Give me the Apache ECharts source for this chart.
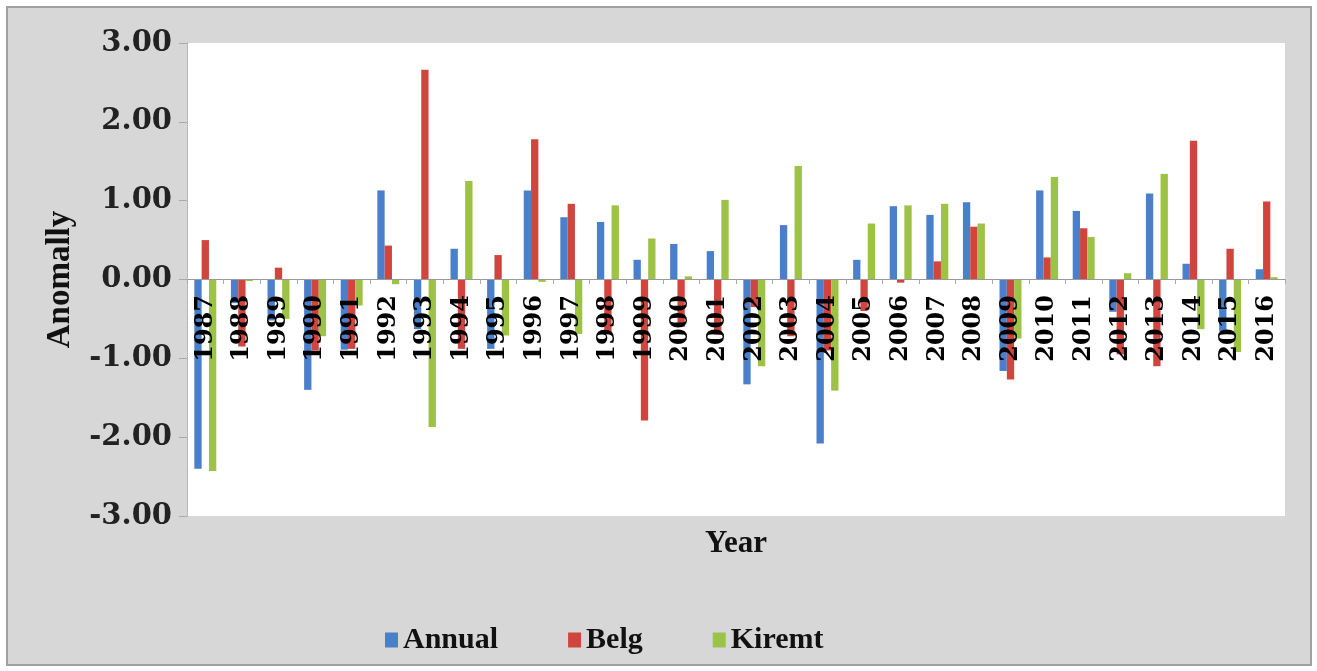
<!DOCTYPE html>
<html>
<head>
<meta charset="utf-8">
<script src="https://cdn.jsdelivr.net/npm/echarts@6/dist/echarts.min.js"></script>
<style>
  html, body { margin: 0; padding: 0; background: #fff; }
  #frame {
    position: absolute; left: 6px; top: 6px; width: 1302px; height: 656px;
    border: 2px solid #a0a0a0; background: #d7d7d7;
  }
  #chart { position: absolute; left: 0; top: 0; width: 1317px; height: 671px; }
</style>
</head>
<body>
<div id="frame"></div>
<div id="chart"></div>
<script>
const years = ['1987', '1988', '1989', '1990', '1991', '1992', '1993', '1994', '1995', '1996',
  '1997', '1998', '1999', '2000', '2001', '2002', '2003', '2004', '2005', '2006',
  '2007', '2008', '2009', '2010', '2011', '2012', '2013', '2014', '2015', '2016'];

const annual = [-2.40, -0.30, -0.52, -1.40, -0.89, 1.13, -0.63, 0.39, -0.88, 1.13,
  0.79, 0.73, 0.25, 0.45, 0.36, -1.33, 0.69, -2.08, 0.25, 0.93,
  0.82, 0.98, -1.16, 1.13, 0.87, -0.41, 1.09, 0.20, -0.66, 0.13];

const belg = [0.50, -0.85, 0.15, -0.90, -0.88, 0.43, 2.66, -0.88, 0.31, 1.78,
  0.96, -0.68, -1.79, -0.60, -0.70, -0.35, -0.72, -0.90, -0.40, -0.04,
  0.23, 0.67, -1.27, 0.28, 0.65, -0.95, -1.10, 1.76, 0.39, 0.99];

const kiremt = [-2.43, -0.02, -0.50, -0.72, -0.33, -0.06, -1.87, 1.25, -0.71, -0.03,
  -0.69, 0.94, 0.52, 0.04, 1.01, -1.10, 1.44, -1.41, 0.71, 0.94,
  0.96, 0.71, -0.75, 1.30, 0.54, 0.08, 1.34, -0.63, -0.92, 0.03];

const myChart = echarts.init(document.getElementById('chart'));

const serif = '"Liberation Serif", "Times New Roman", serif';
const tickFont = '"DejaVu Serif", serif';

function barSeries(name, data, color) {
  return {
    name: name,
    type: 'bar',
    data: data,
    barGap: '0%',
    barCategoryGap: '40%',
    itemStyle: { color: color }
  };
}

const option = {
  animation: false,
  backgroundColor: 'transparent',
  grid: {
    left: 187,
    right: 32,
    top: 43,
    bottom: 155,
    containLabel: false,
    outerBoundsMode: 'none',
    show: true,
    backgroundColor: '#ffffff',
    borderWidth: 0
  },
  legend: {
    left: 380,
    top: 620,
    itemWidth: 13,
    itemHeight: 15,
    itemGap: 70,
    icon: 'rect',
    textStyle: { fontFamily: serif, fontWeight: 'bold', fontSize: 30, color: '#111' },
    data: ['Annual', 'Belg', 'Kiremt']
  },
  xAxis: {
    type: 'category',
    data: years,
    z: 10,
    position: 'bottom',
    // axis sits on the zero line (grid height 473 -> half = 236.5)
    offset: -237,
    name: 'Year',
    nameLocation: 'middle',
    nameGap: 249,
    nameTextStyle: { fontFamily: serif, fontWeight: 'bold', fontSize: 31, color: '#111' },
    axisLine: { onZero: false, lineStyle: { color: '#999', width: 1 } },
    axisTick: { show: true, length: 5, lineStyle: { color: '#aaa' } },
    axisLabel: {
      interval: 0,
      rotate: 90,
      margin: 16,
      fontFamily: tickFont,
      fontWeight: 'bold',
      fontSize: 24,
      color: '#000'
    },
    splitLine: { show: false }
  },
  yAxis: {
    type: 'value',
    min: -3,
    max: 3,
    interval: 1,
    name: 'Anomally',
    nameLocation: 'middle',
    nameGap: 110,
    nameRotate: 90,
    nameTextStyle: { fontFamily: serif, fontWeight: 'bold', fontSize: 33, color: '#111' },
    axisLine: { show: true, lineStyle: { color: '#aaa', width: 1, type: 'dotted' } },
    axisTick: { show: true, length: 8, lineStyle: { color: '#aaa' } },
    axisLabel: {
      margin: 15,
      fontFamily: tickFont,
      fontWeight: 'bold',
      fontSize: 29,
      color: '#222',
      formatter: function (v) { return v.toFixed(2); }
    },
    splitLine: { show: false }
  },
  series: [
    barSeries('Annual', annual, '#4a7fcb'),
    barSeries('Belg', belg, '#d0463f'),
    barSeries('Kiremt', kiremt, '#9cc346')
  ]
};

myChart.setOption(option);
</script>
</body>
</html>
